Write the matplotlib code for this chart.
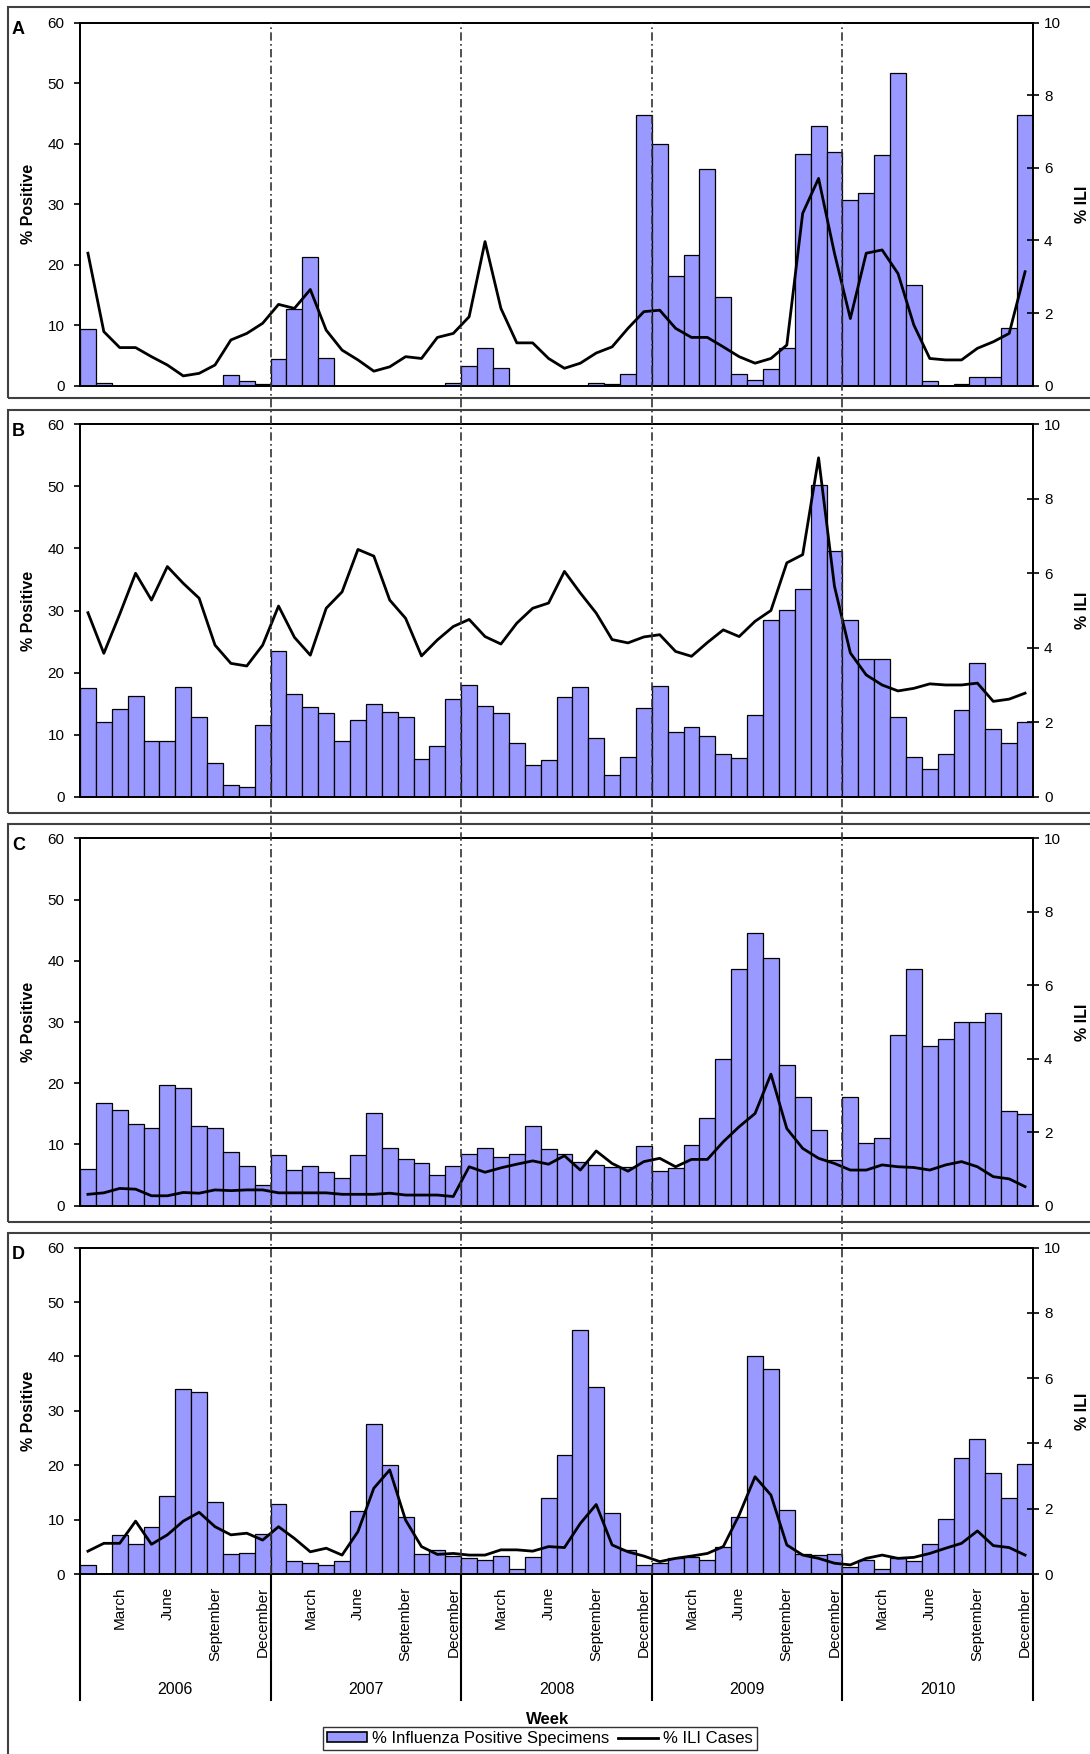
import matplotlib
matplotlib.use('Agg')
import matplotlib.pyplot as plt
import numpy as np
from matplotlib.patches import Rectangle, Patch
from matplotlib.lines import Line2D
import matplotlib.transforms as mtransforms

plt.rcParams['font.family'] = ['Liberation Sans', 'DejaVu Sans']

# monthly values, Jan 2006 .. Dec 2010
years = ['2006', '2007', '2008', '2009', '2010']
months = ['March', 'June', 'September', 'December']

pos_a = [9.4, 0.5, 0, 0, 0, 0, 0, 0, 0, 1.7, 0.8, 0.2,
         4.35, 12.7, 21.2, 4.6, 0, 0, 0, 0, 0, 0, 0, 0.5,
         3.3, 6.3, 2.9, 0, 0, 0, 0, 0, 0.5, 0.2, 2.0, 44.7,
         40.0, 18.1, 21.6, 35.9, 14.7, 2.0, 1.0, 2.75, 6.3, 38.3, 43.0, 38.7,
         30.7, 31.8, 38.1, 51.7, 16.7, 0.8, 0, 0.2, 1.5, 1.5, 9.6, 44.7]
ili_a = [3.65, 1.49, 1.05, 1.05, 0.8, 0.57, 0.27, 0.34, 0.57, 1.26, 1.44, 1.72,
         2.24, 2.13, 2.65, 1.53, 0.98, 0.71, 0.4, 0.52, 0.8, 0.75, 1.33, 1.44,
         1.9, 3.97, 2.13, 1.18, 1.18, 0.75, 0.48, 0.62, 0.9, 1.07, 1.58, 2.04,
         2.08, 1.58, 1.33, 1.33, 1.07, 0.8, 0.62, 0.75, 1.12, 4.75, 5.71, 3.65,
         1.85, 3.65, 3.74, 3.09, 1.67, 0.75, 0.71, 0.71, 1.03, 1.21, 1.44, 3.14]

pos_b = [17.5, 12.1, 14.2, 16.3, 8.9, 8.9, 17.7, 12.8, 5.4, 1.9, 1.6, 11.5,
         23.4, 16.5, 14.5, 13.5, 8.9, 12.4, 14.9, 13.7, 12.8, 6.1, 8.1, 15.7,
         18.0, 14.6, 13.5, 8.6, 5.1, 5.9, 16.0, 17.6, 9.4, 3.5, 6.4, 14.3,
         17.8, 10.4, 11.3, 9.8, 6.9, 6.2, 13.2, 28.4, 30.1, 33.4, 50.3, 39.6,
         28.4, 22.2, 22.2, 12.8, 6.4, 4.4, 6.9, 14.0, 21.5, 10.9, 8.7, 12.1]
ili_b = [4.94, 3.85, 4.9, 6.0, 5.28, 6.18, 5.73, 5.33, 4.07, 3.58, 3.51, 4.07,
         5.12, 4.28, 3.8, 5.06, 5.5, 6.64, 6.46, 5.28, 4.79, 3.78, 4.21, 4.57,
         4.76, 4.3, 4.1, 4.66, 5.06, 5.2, 6.05, 5.47, 4.93, 4.22, 4.13, 4.29,
         4.35, 3.9, 3.77, 4.14, 4.48, 4.3, 4.71, 5.0, 6.28, 6.5, 9.1, 5.65,
         3.86, 3.27, 3.0, 2.84, 2.91, 3.03, 3.0, 3.0, 3.05, 2.56, 2.62, 2.78]

pos_c = [6.0, 16.7, 15.7, 13.4, 12.7, 19.7, 19.3, 13.0, 12.7, 8.7, 6.5, 3.3,
         8.3, 5.8, 6.5, 5.5, 4.5, 8.3, 15.2, 9.5, 7.7, 7.0, 5.0, 6.5,
         8.5, 9.4, 8.0, 8.5, 13.0, 9.2, 8.5, 7.2, 6.6, 6.4, 6.4, 9.7,
         5.7, 6.1, 9.9, 14.3, 24.0, 38.7, 44.5, 40.5, 23.0, 17.7, 12.4, 7.5,
         17.7, 10.2, 11.0, 27.8, 38.7, 26.0, 27.2, 30.0, 30.0, 31.4, 15.5, 14.9]
ili_c = [0.31, 0.35, 0.47, 0.45, 0.27, 0.27, 0.36, 0.34, 0.43, 0.41, 0.43, 0.43,
         0.35, 0.35, 0.35, 0.35, 0.31, 0.31, 0.31, 0.34, 0.29, 0.29, 0.29, 0.25,
         1.06, 0.91, 1.03, 1.13, 1.22, 1.13, 1.36, 0.97, 1.49, 1.15, 0.94, 1.2,
         1.29, 1.06, 1.26, 1.26, 1.74, 2.15, 2.51, 3.58, 2.1, 1.56, 1.29, 1.15,
         0.97, 0.97, 1.11, 1.06, 1.04, 0.97, 1.11, 1.2, 1.06, 0.79, 0.73, 0.52]

pos_d = [1.65, 0, 7.2, 5.6, 8.7, 14.3, 34.1, 33.5, 13.3, 3.7, 3.9, 7.3,
         12.9, 2.3, 2.0, 1.6, 2.3, 11.6, 27.6, 20.0, 10.4, 3.6, 4.5, 3.3,
         2.9, 2.5, 3.3, 1.0, 3.1, 14.0, 21.8, 44.9, 34.3, 11.3, 4.5, 1.6,
         2.0, 3.0, 3.2, 2.6, 5.0, 10.4, 40.0, 37.7, 11.8, 3.6, 3.5, 3.6,
         1.35, 2.5, 1.0, 2.9, 2.3, 5.6, 10.1, 21.4, 24.8, 18.5, 14.0, 20.2]
ili_d = [0.70, 0.94, 0.94, 1.62, 0.91, 1.2, 1.62, 1.89, 1.45, 1.2, 1.25, 1.04,
         1.45, 1.09, 0.68, 0.79, 0.58, 1.3, 2.63, 3.19, 1.65, 0.84, 0.6, 0.63,
         0.58, 0.58, 0.74, 0.74, 0.7, 0.84, 0.81, 1.55, 2.13, 0.89, 0.68, 0.55,
         0.38, 0.48, 0.55, 0.63, 0.84, 1.81, 2.98, 2.42, 0.89, 0.58, 0.48, 0.33,
         0.28, 0.48, 0.58, 0.48, 0.51, 0.63, 0.79, 0.94, 1.32, 0.87, 0.81, 0.58]

panels = [('A', pos_a, ili_a), ('B', pos_b, ili_b),
          ('C', pos_c, ili_c), ('D', pos_d, ili_d)]

W, H = 1090, 1754
fig = plt.figure(figsize=(W / 100, H / 100), dpi=100)

BAR = '#9999ff'
x_left, x_right = 80, 1033
# (axes top, axes bottom, frame top, frame bottom) in pixels
rows = [(22.7, 385.7, 7, 398), (424.3, 796.7, 410, 813),
        (838.3, 1205.7, 824, 1221.7), (1247.7, 1574, 1233, 1770)]

x = np.arange(60)
axes = []
for (letter, pos, ili), (top, bot, ftop, fbot) in zip(panels, rows):
    fig.patches.append(Rectangle((7.6 / W, 1 - fbot / H), 1.2, (fbot - ftop) / H,
                                 transform=fig.transFigure, fill=False,
                                 ec='#404040', lw=1.5))
    ax = fig.add_axes([x_left / W, 1 - bot / H, (x_right - x_left) / W, (bot - top) / H])
    ax.bar(x, pos, width=1.0, color=BAR, edgecolor='black', lw=0.9)
    ax.set_xlim(-0.5, 59.5)
    ax.set_ylim(0, 60)
    ax.set_yticks(range(0, 61, 10))
    ax.tick_params(axis='y', direction='out', length=4, width=1.2, pad=7, labelsize=11)
    ax.set_ylabel('% Positive', fontsize=11.5, fontweight='bold')
    ax.yaxis.set_label_coords((36 - x_left) / (x_right - x_left), 0.5)
    ax.set_xticks([])
    for s in ax.spines.values():
        s.set_linewidth(1.3)

    ax2 = ax.twinx()
    ax2.plot(x, ili, color='black', lw=2.0)
    ax2.set_ylim(0, 10)
    ax2.set_yticks(range(0, 11, 2))
    ax2.tick_params(axis='y', direction='inout', length=8, width=1.2, pad=4, labelsize=11)
    ax2.set_ylabel('% ILI', fontsize=11.5, fontweight='bold')
    ax2.yaxis.set_label_coords((1075 - x_left) / (x_right - x_left), 0.5)
    for s in ax2.spines.values():
        s.set_linewidth(1.3)

    fig.text(12 / W, 1 - (top + 7) / H, letter, fontsize=13, fontweight='bold',
             ha='left', va='center')
    axes.append(ax)

# month and year labels under the last panel
axd = axes[-1]
tick_pos = [12 * k + m for k in range(5) for m in (2, 5, 8, 11)]
axd.set_xticks(tick_pos)
axd.set_xticklabels(months * 5, rotation=90, fontsize=11, va='top')
axd.tick_params(axis='x', length=0, pad=9)

trans = mtransforms.blended_transform_factory(axd.transData, axd.transAxes)
d_h = rows[-1][1] - rows[-1][0]
sep_bot = -(1700 - 1574) / d_h
for k in range(6):
    axd.add_line(Line2D([12 * k - 0.5] * 2, [0, sep_bot], transform=trans,
                        color='black', lw=1.5, clip_on=False))
for k, yr in enumerate(years):
    axd.text(12 * k + 5.5, -(1689 - 1574) / d_h, yr, transform=trans,
             ha='center', va='center', fontsize=11.5)

# year boundaries running through all panels
over = fig.add_axes([x_left / W, 1 - 1574 / H, (x_right - x_left) / W, (1574 - 22.7) / H])
over.set_xlim(-0.5, 59.5)
over.set_ylim(0, 1)
over.axis('off')
for k in range(1, 5):
    over.axvline(12 * k - 0.5, color='#333333', lw=1.2, ls=(0, (5, 2, 1, 2)))

fig.text(548 / W, 1 - 1719 / H, 'Week', fontsize=12, fontweight='bold',
         ha='center', va='center')

handles = [Patch(facecolor=BAR, edgecolor='black', lw=1.2),
           Line2D([], [], color='black', lw=2)]
fig.legend(handles, ['% Influenza Positive Specimens', '% ILI Cases'],
           loc='upper center', bbox_to_anchor=(540 / W, 1 - 1727 / H), ncol=2,
           fontsize=12, frameon=True, fancybox=False, edgecolor='black',
           borderpad=0.25, handlelength=2.4, handleheight=0.55, handletextpad=0.3,
           columnspacing=0.5, borderaxespad=0)

fig.savefig('out.png', dpi=100)
